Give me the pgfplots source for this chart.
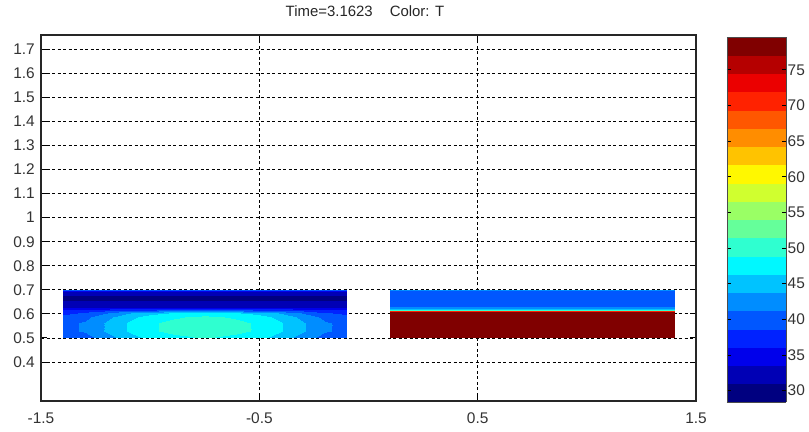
\documentclass[border=0pt]{standalone}
\usepackage{pgfplots}
\usepackage{pgfplotstable}
\pgfplotsset{compat=1.18}
\usepackage{fontspec}
\setmainfont{Liberation Sans}

\pgfplotsset{
  colormap={jetsteps}{
    rgb255=(0,0,128) rgb255=(0,0,181) rgb255=(0,0,235) rgb255=(0,34,255)
    rgb255=(0,87,255) rgb255=(0,141,255) rgb255=(0,195,255) rgb255=(0,248,255)
    rgb255=(47,255,208) rgb255=(101,255,154) rgb255=(154,255,101) rgb255=(208,255,47)
    rgb255=(255,248,0) rgb255=(255,195,0) rgb255=(255,141,0) rgb255=(255,87,0)
    rgb255=(255,34,0) rgb255=(235,0,0) rgb255=(181,0,0) rgb255=(128,0,0)
  }
}

\pgfplotstableread{
x y T
-1.4 0.50 39
-1.3 0.50 40
-1.2 0.50 42.5
-1.1 0.50 45
-1.0 0.50 47
-0.9 0.50 48
-0.75 0.50 49
-0.6 0.50 48
-0.5 0.50 47
-0.4 0.50 45
-0.3 0.50 42.5
-0.2 0.50 40
-0.1 0.50 39
-1.4 0.53 40.5
-1.3 0.53 41.5
-1.2 0.53 44
-1.1 0.53 46.5
-1.0 0.53 48.5
-0.9 0.53 49.5
-0.75 0.53 50.5
-0.6 0.53 49.5
-0.5 0.53 48.5
-0.4 0.53 46.5
-0.3 0.53 44
-0.2 0.53 41.5
-0.1 0.53 40.5
-1.4 0.56 40.5
-1.3 0.56 41.5
-1.2 0.56 44
-1.1 0.56 46.5
-1.0 0.56 48.5
-0.9 0.56 49.5
-0.75 0.56 50.5
-0.6 0.56 49.5
-0.5 0.56 48.5
-0.4 0.56 46.5
-0.3 0.56 44
-0.2 0.56 41.5
-0.1 0.56 40.5
-1.4 0.585 39.5
-1.3 0.585 40.5
-1.2 0.585 43
-1.1 0.585 45.5
-1.0 0.585 47.5
-0.9 0.585 48.5
-0.75 0.585 49.5
-0.6 0.585 48.5
-0.5 0.585 47.5
-0.4 0.585 45.5
-0.3 0.585 43
-0.2 0.585 40.5
-0.1 0.585 39.5
-1.4 0.603 38
-1.3 0.603 39
-1.2 0.603 41
-1.1 0.603 43.5
-1.0 0.603 45.5
-0.9 0.603 46.5
-0.75 0.603 47.5
-0.6 0.603 46.5
-0.5 0.603 45.5
-0.4 0.603 43.5
-0.3 0.603 41
-0.2 0.603 39
-0.1 0.603 38
-1.4 0.615 37
-1.3 0.615 37
-1.2 0.615 37.5
-1.1 0.615 38
-1.0 0.615 38.5
-0.9 0.615 39
-0.75 0.615 39.5
-0.6 0.615 39
-0.5 0.615 38.5
-0.4 0.615 38
-0.3 0.615 37.5
-0.2 0.615 37
-0.1 0.615 37
-1.4 0.628 33
-1.3 0.628 33
-1.2 0.628 33
-1.1 0.628 33
-1.0 0.628 33
-0.9 0.628 33
-0.75 0.628 33
-0.6 0.628 33
-0.5 0.628 33
-0.4 0.628 33
-0.3 0.628 33
-0.2 0.628 33
-0.1 0.628 33
-1.4 0.645 31.5
-1.3 0.645 31.5
-1.2 0.645 31.5
-1.1 0.645 31.5
-1.0 0.645 31.5
-0.9 0.645 31.5
-0.75 0.645 31.5
-0.6 0.645 31.5
-0.5 0.645 31.5
-0.4 0.645 31.5
-0.3 0.645 31.5
-0.2 0.645 31.5
-0.1 0.645 31.5
-1.4 0.665 30.5
-1.3 0.665 30.5
-1.2 0.665 30.5
-1.1 0.665 30.5
-1.0 0.665 30.5
-0.9 0.665 30.5
-0.75 0.665 30.5
-0.6 0.665 30.5
-0.5 0.665 30.5
-0.4 0.665 30.5
-0.3 0.665 30.5
-0.2 0.665 30.5
-0.1 0.665 30.5
-1.4 0.685 31.5
-1.3 0.685 31.5
-1.2 0.685 31.5
-1.1 0.685 31.5
-1.0 0.685 31.5
-0.9 0.685 31.5
-0.75 0.685 31.5
-0.6 0.685 31.5
-0.5 0.685 31.5
-0.4 0.685 31.5
-0.3 0.685 31.5
-0.2 0.685 31.5
-0.1 0.685 31.5
-1.4 0.696 34
-1.3 0.696 34
-1.2 0.696 34
-1.1 0.696 34
-1.0 0.696 34
-0.9 0.696 34
-0.75 0.696 34
-0.6 0.696 34
-0.5 0.696 34
-0.4 0.696 34
-0.3 0.696 34
-0.2 0.696 34
-0.1 0.696 34
-1.4 0.70 40
-1.3 0.70 40
-1.2 0.70 40
-1.1 0.70 40
-1.0 0.70 40
-0.9 0.70 40
-0.75 0.70 40
-0.6 0.70 40
-0.5 0.70 40
-0.4 0.70 40
-0.3 0.70 40
-0.2 0.70 40
-0.1 0.70 40
}\leftdata

\pgfplotstableread{
x y T
0.1 0.50 80
0.75 0.50 80
1.4 0.50 80
0.1 0.606 80
0.75 0.606 80
1.4 0.606 80
0.1 0.610 70
0.75 0.610 70
1.4 0.610 70
0.1 0.614 58
0.75 0.614 58
1.4 0.614 58
0.1 0.618 49
0.75 0.618 49
1.4 0.618 49
0.1 0.623 42.5
0.75 0.623 42.5
1.4 0.623 42.5
0.1 0.635 40
0.75 0.635 40
1.4 0.635 40
0.1 0.66 39.5
0.75 0.66 39.5
1.4 0.66 39.5
0.1 0.693 39.5
0.75 0.693 39.5
1.4 0.693 39.5
0.1 0.70 43
0.75 0.70 43
1.4 0.70 43
}\rightdata

\begin{document}
\begin{tikzpicture}
\useasboundingbox (-41bp,-31bp) rectangle (768bp,401bp);
\begin{axis}[
  at={(0,0)}, anchor=south west,
  scale only axis, width=655bp, height=366bp,
  xmin=-1.5, xmax=1.5, ymin=0.2375, ymax=1.7596,
  colormap name=jetsteps,
  colormap access=piecewise constant,
  point meta min=28.4, point meta max=79.6,
  xtick={-1.5,-0.5,0.5,1.5},
  xticklabels={-1.5,-0.5,0.5,1.5},
  ytick={0.4,0.5,0.6,0.7,0.8,0.9,1.0,1.1,1.2,1.3,1.4,1.5,1.6,1.7},
  yticklabels={0.4,0.5,0.6,0.7,0.8,0.9,1,1.1,1.2,1.3,1.4,1.5,1.6,1.7},
  tick align=inside, xtick pos=both, ytick pos=both,
  xticklabel pos=bottom, yticklabel pos=left,
  major tick length=6bp,
  tick style={black, line width=0.8bp},
  grid=major,
  grid style={black, line width=0.7bp, dash pattern=on 3bp off 2.5bp},
  axis line style={black!85, line width=1.1bp},
  tick label style={font=\fontsize{15.5}{15.5}\selectfont, text=black!80},
  xticklabel style={inner sep=0pt, anchor=north, yshift=-12bp},
  yticklabel style={inner sep=0pt, anchor=east, xshift=-6bp},
  title={Time=3.1623\hspace{17bp}Color: T},
  title style={font=\fontsize{15}{15}\selectfont, text=black!85, at={(0.5,1)}, anchor=base, yshift=13bp, xshift=-3.5bp, inner sep=0pt},
  colorbar,
  colorbar style={
    at={(1.0473,-0.0027)}, anchor=south west,
    scale only axis, width=59bp, height=365bp,
    ytick={30,35,40,45,50,55,60,65,70,75},
    ytick pos=both, yticklabel pos=right,
    tick align=inside, major tick length=4bp,
    tick style={black, line width=0.8bp},
    axis line style={black!70, line width=0.8bp},
    /pgf/number format/assume math mode=true,
    yticklabel style={font=\fontsize{15.5}{15.5}\selectfont, text=black!80, inner sep=0pt, anchor=west, xshift=1.5bp},
  },
]
\addplot[surf, shader=interp, mesh/cols=13, point meta=explicit] table[x=x, y=y, meta=T] {\leftdata};
\addplot[surf, shader=interp, mesh/cols=3, point meta=explicit] table[x=x, y=y, meta=T] {\rightdata};
\end{axis}
\end{tikzpicture}
\end{document}
